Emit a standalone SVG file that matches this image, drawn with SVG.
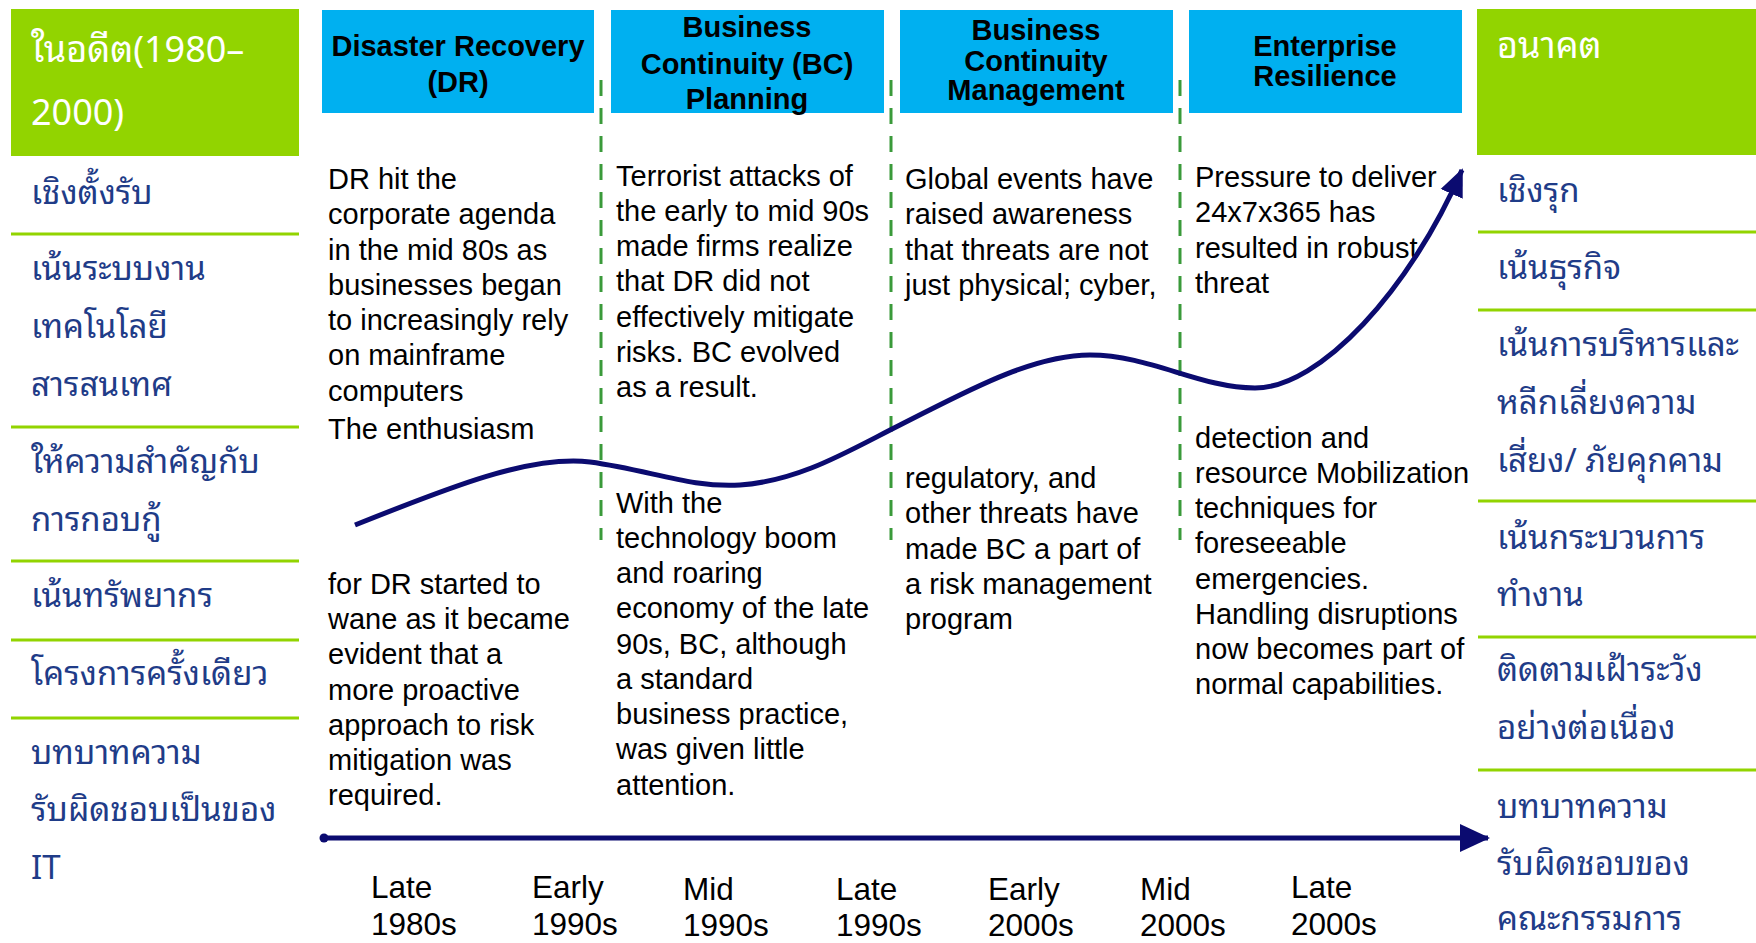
<svg xmlns="http://www.w3.org/2000/svg" width="1756" height="943" viewBox="0 0 1756 943">
<style>
.bg{fill:#ffffff}
.green{fill:#92D400}
.blue{fill:#00B0F0}
.sep{stroke:#92D400;stroke-width:3}
.dash{stroke:#3A9A3A;stroke-width:3;stroke-dasharray:16 12;fill:none}
.th{font-family:"Noto Sans Thai Looped","Loma","Garuda","Tahoma","Noto Sans Thai","Noto Sans",sans-serif;font-size:33px;fill:#1F3C88}
.tht{font-family:"Noto Sans Thai Looped","Loma","Garuda","Tahoma","Noto Sans Thai","Noto Sans",sans-serif;font-size:36px;fill:#ffffff}
.hd{font-family:"Liberation Sans",Arial,sans-serif;font-weight:bold;font-size:29px;fill:#000000;text-anchor:middle}
.bd{font-family:"Liberation Sans",Arial,sans-serif;font-size:29px;fill:#000000}
.tl{font-family:"Liberation Sans",Arial,sans-serif;font-size:31.5px;fill:#000000}
.line{stroke:#0B0B70;stroke-width:5;fill:none}
</style>
<defs>
<marker id="arr" markerUnits="userSpaceOnUse" markerWidth="30" markerHeight="30" viewBox="0 0 30 30" refX="26" refY="15" orient="auto">
<path d="M0,3 L28,15 L0,27 Z" fill="#0B0B70"/>
</marker>
<marker id="arr2" markerUnits="userSpaceOnUse" markerWidth="32" markerHeight="32" viewBox="0 0 32 32" refX="28" refY="16" orient="auto">
<path d="M0,2 L30,16 L0,30 Z" fill="#0B0B70"/>
</marker>
</defs>
<rect class="bg" x="0" y="0" width="1756" height="943"/>

<g id="past-panel">
<rect class="green" x="11" y="9" width="288" height="147"/>
<text class="tht" x="31" y="62">ในอดีต(1980–</text>
<text class="tht" x="31" y="125">2000)</text>
<line class="sep" x1="11" y1="234" x2="299" y2="234"/>
<line class="sep" x1="11" y1="427" x2="299" y2="427"/>
<line class="sep" x1="11" y1="561" x2="299" y2="561"/>
<line class="sep" x1="11" y1="640" x2="299" y2="640"/>
<line class="sep" x1="11" y1="718" x2="299" y2="718"/>
<text class="th" x="31" y="204">เชิงตั้งรับ</text>
<text class="th" x="31" y="280">เน้นระบบงาน</text>
<text class="th" x="31" y="338">เทคโนโลยี</text>
<text class="th" x="31" y="396">สารสนเทศ</text>
<text class="th" x="31" y="473">ให้ความสำคัญกับ</text>
<text class="th" x="31" y="531">การกอบกู้</text>
<text class="th" x="31" y="607">เน้นทรัพยากร</text>
<text class="th" x="31" y="685">โครงการครั้งเดียว</text>
<text class="th" x="31" y="764">บทบาทความ</text>
<text class="th" x="31" y="821">รับผิดชอบเป็นของ</text>
<text class="th" x="31" y="879">IT</text>
</g>

<g id="future-panel">
<rect class="green" x="1477" y="9" width="279" height="146"/>
<text class="tht" x="1497" y="58">อนาคต</text>
<line class="sep" x1="1478" y1="232" x2="1756" y2="232"/>
<line class="sep" x1="1478" y1="310" x2="1756" y2="310"/>
<line class="sep" x1="1478" y1="501" x2="1756" y2="501"/>
<line class="sep" x1="1478" y1="637" x2="1756" y2="637"/>
<line class="sep" x1="1478" y1="770" x2="1756" y2="770"/>
<text class="th" x="1497" y="202">เชิงรุก</text>
<text class="th" x="1497" y="279">เน้นธุรกิจ</text>
<text class="th" x="1497" y="356">เน้นการบริหารและ</text>
<text class="th" x="1497" y="414">หลีกเลี่ยงความ</text>
<text class="th" x="1497" y="472">เสี่ยง/ ภัยคุกคาม</text>
<text class="th" x="1497" y="549">เน้นกระบวนการ</text>
<text class="th" x="1497" y="606">ทำงาน</text>
<text class="th" x="1497" y="681">ติดตามเฝ้าระวัง</text>
<text class="th" x="1497" y="739">อย่างต่อเนื่อง</text>
<text class="th" x="1497" y="818">บทบาทความ</text>
<text class="th" x="1497" y="875">รับผิดชอบของ</text>
<text class="th" x="1497" y="930">คณะกรรมการ</text>
</g>

<g id="dividers">
<line class="dash" x1="601" y1="80" x2="601" y2="540"/>
<line class="dash" x1="891" y1="80" x2="891" y2="540"/>
<line class="dash" x1="1180" y1="80" x2="1180" y2="540"/>
</g>

<g id="phase-dr">
<rect class="blue" x="322" y="10" width="272" height="103"/>
<text class="hd" x="458" y="56">Disaster Recovery</text>
<text class="hd" x="458" y="92">(DR)</text>
<text class="bd" x="328" y="189">DR hit the</text>
<text class="bd" x="328" y="224">corporate agenda</text>
<text class="bd" x="328" y="260">in the mid 80s as</text>
<text class="bd" x="328" y="295">businesses began</text>
<text class="bd" x="328" y="330">to increasingly rely</text>
<text class="bd" x="328" y="365">on mainframe</text>
<text class="bd" x="328" y="401">computers</text>
<text class="bd" x="328" y="439">The enthusiasm</text>
<text class="bd" x="328" y="594">for DR started to</text>
<text class="bd" x="328" y="629">wane as it became</text>
<text class="bd" x="328" y="664">evident that a</text>
<text class="bd" x="328" y="700">more proactive</text>
<text class="bd" x="328" y="735">approach to risk</text>
<text class="bd" x="328" y="770">mitigation was</text>
<text class="bd" x="328" y="805">required.</text>
</g>

<g id="phase-bcp">
<rect class="blue" x="611" y="10" width="273" height="103"/>
<text class="hd" x="747" y="37">Business</text>
<text class="hd" x="747" y="74">Continuity (BC)</text>
<text class="hd" x="747" y="109">Planning</text>
<text class="bd" x="616" y="186">Terrorist attacks of</text>
<text class="bd" x="616" y="221">the early to mid 90s</text>
<text class="bd" x="616" y="256">made firms realize</text>
<text class="bd" x="616" y="291">that DR did not</text>
<text class="bd" x="616" y="327">effectively mitigate</text>
<text class="bd" x="616" y="362">risks. BC evolved</text>
<text class="bd" x="616" y="397">as a result.</text>
<text class="bd" x="616" y="513">With the</text>
<text class="bd" x="616" y="548">technology boom</text>
<text class="bd" x="616" y="583">and roaring</text>
<text class="bd" x="616" y="618">economy of the late</text>
<text class="bd" x="616" y="654">90s, BC, although</text>
<text class="bd" x="616" y="689">a standard</text>
<text class="bd" x="616" y="724">business practice,</text>
<text class="bd" x="616" y="759">was given little</text>
<text class="bd" x="616" y="795">attention.</text>
</g>

<g id="phase-bcm">
<rect class="blue" x="900" y="10" width="273" height="103"/>
<text class="hd" x="1036" y="40">Business</text>
<text class="hd" x="1036" y="71">Continuity</text>
<text class="hd" x="1036" y="100">Management</text>
<text class="bd" x="905" y="189">Global events have</text>
<text class="bd" x="905" y="224">raised awareness</text>
<text class="bd" x="905" y="260">that threats are not</text>
<text class="bd" x="905" y="295">just physical; cyber,</text>
<text class="bd" x="905" y="488">regulatory, and</text>
<text class="bd" x="905" y="523">other threats have</text>
<text class="bd" x="905" y="559">made BC a part of</text>
<text class="bd" x="905" y="594">a risk management</text>
<text class="bd" x="905" y="629">program</text>
</g>

<g id="phase-er">
<rect class="blue" x="1189" y="10" width="273" height="103"/>
<text class="hd" x="1325" y="56">Enterprise</text>
<text class="hd" x="1325" y="86">Resilience</text>
<text class="bd" x="1195" y="187">Pressure to deliver</text>
<text class="bd" x="1195" y="222">24x7x365 has</text>
<text class="bd" x="1195" y="258">resulted in robust</text>
<text class="bd" x="1195" y="293">threat</text>
<text class="bd" x="1195" y="448">detection and</text>
<text class="bd" x="1195" y="483">resource Mobilization</text>
<text class="bd" x="1195" y="518">techniques for</text>
<text class="bd" x="1195" y="553">foreseeable</text>
<text class="bd" x="1195" y="589">emergencies.</text>
<text class="bd" x="1195" y="624">Handling disruptions</text>
<text class="bd" x="1195" y="659">now becomes part of</text>
<text class="bd" x="1195" y="694">normal capabilities.</text>
</g>

<g id="time-labels">
<text class="tl" x="371" y="898">Late</text>
<text class="tl" x="371" y="935">1980s</text>
<text class="tl" x="532" y="898">Early</text>
<text class="tl" x="532" y="935">1990s</text>
<text class="tl" x="683" y="900">Mid</text>
<text class="tl" x="683" y="936">1990s</text>
<text class="tl" x="836" y="900">Late</text>
<text class="tl" x="836" y="936">1990s</text>
<text class="tl" x="988" y="900">Early</text>
<text class="tl" x="988" y="936">2000s</text>
<text class="tl" x="1140" y="900">Mid</text>
<text class="tl" x="1140" y="936">2000s</text>
<text class="tl" x="1291" y="898">Late</text>
<text class="tl" x="1291" y="935">2000s</text>
</g>

<g id="connectors">
<path class="line" d="M355,525 C450,487 530,455 590,462 C650,470 690,488 740,485 C800,481 850,450 900,425 C960,395 1030,355 1090,355 C1150,355 1200,388 1255,388 C1320,388 1410,290 1462,170" marker-end="url(#arr)"/>
<circle cx="324" cy="838" r="4.5" fill="#0B0B70"/>
<line class="line" x1="324" y1="838" x2="1488" y2="838" marker-end="url(#arr2)"/>
</g>
</svg>
